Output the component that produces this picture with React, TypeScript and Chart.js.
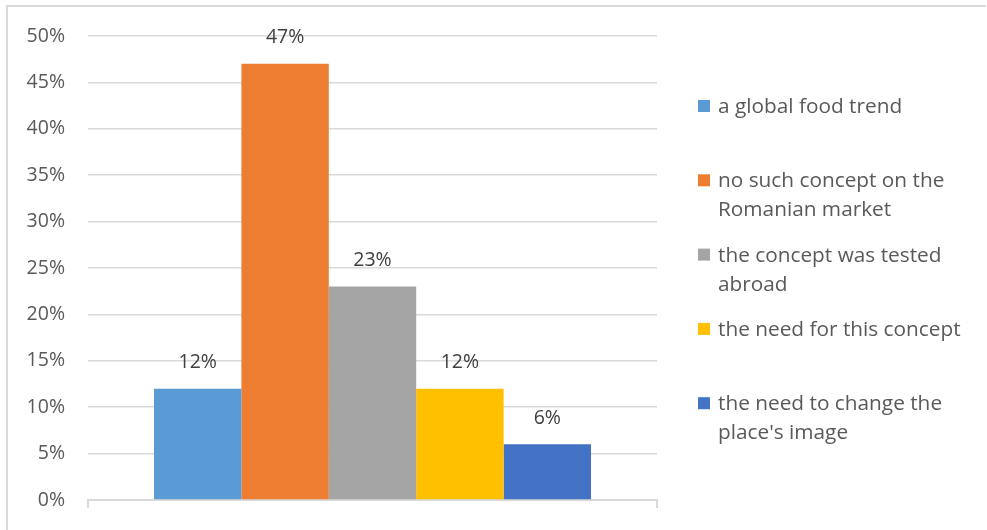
import React, { useEffect, useRef } from "react";
import { Chart, registerables } from "chart.js";

Chart.register(...registerables);

const categories = [""];
const seriesNames = [
  "a global food trend",
  "no such concept on the Romanian market",
  "the concept was tested abroad",
  "the need for this concept",
  "the need to change the place's image",
];
const legendLines = [
  ["a global food trend"],
  ["no such concept on the", "Romanian market"],
  ["the concept was tested", "abroad"],
  ["the need for this concept"],
  ["the need to change the", "place's image"],
];
const seriesValues = [12, 47, 23, 12, 6];
const seriesColors = ["#5B9BD5", "#ED7D31", "#A5A5A5", "#FFC000", "#4472C4"];
const yTickMax = 50;
const yTickStep = 5;

const FONT = "'Open Sans', sans-serif";

export default function App() {
  const ref = useRef<HTMLCanvasElement | null>(null);

  useEffect(() => {
    if (!ref.current) return;

    const framePlugin = {
      id: "frame",
      beforeDraw(chart: any) {
        const ctx = chart.ctx;
        ctx.save();
        ctx.fillStyle = "#ffffff";
        ctx.fillRect(0, 0, chart.width, chart.height);
        ctx.strokeStyle = "#d9d9d9";
        ctx.lineWidth = 2;
        ctx.beginPath();
        ctx.moveTo(7, 530);
        ctx.lineTo(7, 6);
        ctx.lineTo(986, 6);
        ctx.stroke();
        ctx.restore();
      },
    };

    const labelPlugin = {
      id: "valueLabels",
      afterDatasetsDraw(chart: any) {
        const ctx = chart.ctx;
        ctx.save();
        ctx.font = `19.5px ${FONT}`;
        ctx.fillStyle = "#404040";
        ctx.textAlign = "center";
        ctx.textBaseline = "middle";
        chart.data.datasets.forEach((ds: any, i: number) => {
          const meta = chart.getDatasetMeta(i);
          meta.data.forEach((bar: any, j: number) => {
            ctx.fillText(`${ds.data[j]}%`, bar.x, bar.y - 26);
          });
        });
        ctx.restore();
      },
    };

    const legendPlugin = {
      id: "customLegend",
      afterDraw(chart: any) {
        const ctx = chart.ctx;
        ctx.save();
        ctx.font = `20.8px ${FONT}`;
        ctx.textBaseline = "middle";
        ctx.textAlign = "left";
        legendLines.forEach((lines, i) => {
          const y0 = 106 + i * 74.3;
          ctx.fillStyle = seriesColors[i];
          ctx.fillRect(698, y0 - 6, 12, 12);
          ctx.fillStyle = "#595959";
          lines.forEach((t, k) => {
            ctx.fillText(t, 718, y0 + 1 + k * 29);
          });
        });
        ctx.restore();
      },
    };

    const chart = new Chart(ref.current, {
      type: "bar",
      data: {
        labels: categories,
        datasets: seriesNames.map((name, i) => ({
          label: name,
          data: [seriesValues[i]],
          backgroundColor: seriesColors[i],
          borderWidth: 0,
          barPercentage: 1,
          categoryPercentage: 0.768,
        })),
      },
      options: {
        animation: false,
        responsive: false,
        maintainAspectRatio: false,
        layout: { padding: { top: 36, right: 330, bottom: 0, left: 0 } },
        plugins: {
          legend: { display: false },
          tooltip: { enabled: false },
        },
        scales: {
          x: {
            ticks: { display: false },
            grid: {
              display: true,
              drawOnChartArea: false,
              drawTicks: true,
              tickLength: 8,
              color: "#d9d9d9",
              lineWidth: 2,
              offset: true,
            },
            border: { display: true, color: "#d9d9d9", width: 2 },
            afterFit(scale: any) {
              scale.height = 30;
            },
          },
          y: {
            min: 0,
            max: yTickMax,
            ticks: {
              stepSize: yTickStep,
              padding: 0,
              color: "#595959",
              font: { size: 19.5, family: FONT },
              callback: (v: any) => `${v}%`,
            },
            grid: {
              color: "#d9d9d9",
              lineWidth: 1.5,
              drawTicks: true,
              tickLength: 23,
              tickColor: "rgba(0,0,0,0)",
            },
            border: { display: false },
            afterFit(scale: any) {
              scale.width = 88;
            },
          },
        },
      },
      plugins: [framePlugin, labelPlugin, legendPlugin],
    });

    return () => chart.destroy();
  }, []);

  return (
    <div style={{ position: "fixed", left: 0, top: 0, width: 987, height: 530, background: "#fff" }}>
      <canvas ref={ref} width={987} height={530} style={{ display: "block" }} />
    </div>
  );
}
